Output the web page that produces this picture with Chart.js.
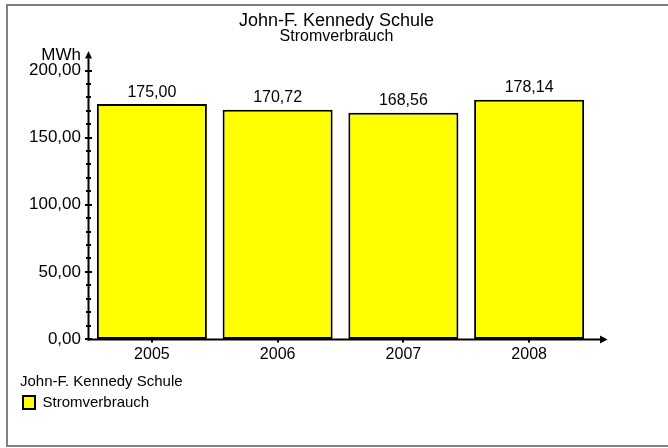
<!DOCTYPE html>
<html><head><meta charset="utf-8">
<script src="https://cdn.jsdelivr.net/npm/chart.js@4"></script>
<style>html,body{margin:0;padding:0;background:#fff}canvas{display:block}</style>
</head><body>
<canvas id="c" width="668" height="448"></canvas>
<script>
const categories = ['2005', '2006', '2007', '2008'];
const values = [175.00, 170.72, 168.56, 178.14];
const yMin = 0, yMax = 200, yStep = 50, yMinorStep = 10;
const chartTitle = 'John-F. Kennedy Schule';
const chartSubtitle = 'Stromverbrauch';
const seriesName = 'Stromverbrauch';
const legendTitle = 'John-F. Kennedy Schule';
const unitLabel = 'MWh';

const FONT = "'Liberation Sans', Arial, sans-serif";
const fmt = v => v.toFixed(2).replace('.', ',');

const decor = {
  id: 'decor',
  beforeDraw(chart) {
    const ctx = chart.ctx;
    ctx.save();
    ctx.fillStyle = '#fff';
    ctx.fillRect(0, 0, chart.width, chart.height);
    ctx.strokeStyle = '#808080';
    ctx.lineWidth = 2;
    ctx.strokeRect(7, 5, chart.width + 20, chart.height - 7);
    ctx.restore();
  },
  afterDatasetsDraw(chart) {
    const {ctx, chartArea: a, scales: {x, y}} = chart;
    ctx.save();
    ctx.strokeStyle = '#000';
    ctx.fillStyle = '#000';
    ctx.lineWidth = 2;
    const ax = a.left - 0.5;
    const ay = y.getPixelForValue(yMin) + 0.5;
    // y axis + arrow
    ctx.beginPath(); ctx.moveTo(ax, ay + 1); ctx.lineTo(ax, a.top - 12); ctx.stroke();
    ctx.beginPath(); ctx.moveTo(ax, a.top - 19.5); ctx.lineTo(ax - 3.5, a.top - 12); ctx.lineTo(ax + 3.5, a.top - 12); ctx.closePath(); ctx.fill();
    // x axis + arrow
    ctx.beginPath(); ctx.moveTo(ax - 1, ay); ctx.lineTo(a.right + 9, ay); ctx.stroke();
    ctx.beginPath(); ctx.moveTo(a.right + 15.5, ay); ctx.lineTo(a.right + 8, ay - 4); ctx.lineTo(a.right + 8, ay + 4); ctx.closePath(); ctx.fill();
    // y ticks
    for (let v = yMin; v <= yMax + 1e-9; v += yMinorStep) {
      const py = Math.round(y.getPixelForValue(v));
      const major = Math.abs(v % yStep) < 1e-9;
      const w = major ? 3.5 : 2.5;
      ctx.fillRect(ax - w, py - 1, 2 * w, 2);
    }
    // x ticks
    x.ticks.forEach((t, i) => {
      const px = Math.round(x.getPixelForTick(i));
      ctx.fillRect(px - 1, ay, 2, 3);
    });
    // unit label
    ctx.font = '17px ' + FONT;
    ctx.textAlign = 'right';
    ctx.textBaseline = 'alphabetic';
    ctx.fillText(unitLabel, a.left - 8, a.top - 11);
    // value labels
    ctx.font = '16px ' + FONT;
    ctx.textAlign = 'center';
    const meta = chart.getDatasetMeta(0);
    meta.data.forEach((bar, i) => {
      ctx.fillText(fmt(values[i]), bar.x, bar.y - 7.5);
    });
    ctx.restore();
  }
};

new Chart(document.getElementById('c'), {
  type: 'bar',
  data: {
    labels: categories,
    datasets: [{
      label: seriesName,
      data: values,
      backgroundColor: '#FFFF00',
      borderColor: '#000000',
      borderWidth: 2,
      borderSkipped: false,
      barPercentage: 0.875,
      categoryPercentage: 1.0
    }]
  },
  options: {
    responsive: false,
    animation: false,
    devicePixelRatio: 1,
    layout: { padding: { left: 20, right: 15, top: 0, bottom: 28 } },
    plugins: {
      title: {
        display: true, text: chartTitle, color: '#000',
        font: { family: FONT, size: 18, weight: 'normal', lineHeight: 1.0 },
        padding: { top: 12, bottom: 0 }
      },
      subtitle: {
        display: true, text: chartSubtitle, color: '#000',
        font: { family: FONT, size: 16, weight: 'normal', lineHeight: 1.0 },
        padding: { top: -1, bottom: 25.5 }
      },
      legend: {
        display: true, position: 'bottom', align: 'start',
        title: {
          display: true, text: legendTitle, color: '#000', position: 'start',
          font: { family: FONT, size: 15, lineHeight: 1.2 },
          padding: { top: 5, bottom: 0 }
        },
        labels: {
          color: '#000', boxWidth: 12, boxHeight: 13, padding: 3,
          font: { family: FONT, size: 15 }
        }
      },
      tooltip: { enabled: false }
    },
    scales: {
      x: {
        grid: { display: false, drawTicks: false, tickLength: 0 },
        border: { display: false },
        ticks: { color: '#000', padding: 6, font: { family: FONT, size: 16 } },
        afterFit(scale) { scale.height = 30; }
      },
      y: {
        min: yMin, max: yMax,
        grid: { display: false, drawTicks: false, tickLength: 0 },
        border: { display: false },
        ticks: {
          stepSize: yStep, color: '#000', padding: 8,
          font: { family: FONT, size: 17 },
          callback: v => fmt(v)
        },
        afterFit(scale) { scale.width = 69; }
      },
      yRight: {
        position: 'right', min: yMin, max: yMax,
        grid: { display: false, drawTicks: false, tickLength: 0 },
        border: { display: false },
        ticks: { display: false },
        afterFit(scale) { scale.width = 61; }
      }
    }
  },
  plugins: [decor]
});
</script>
</body></html>
